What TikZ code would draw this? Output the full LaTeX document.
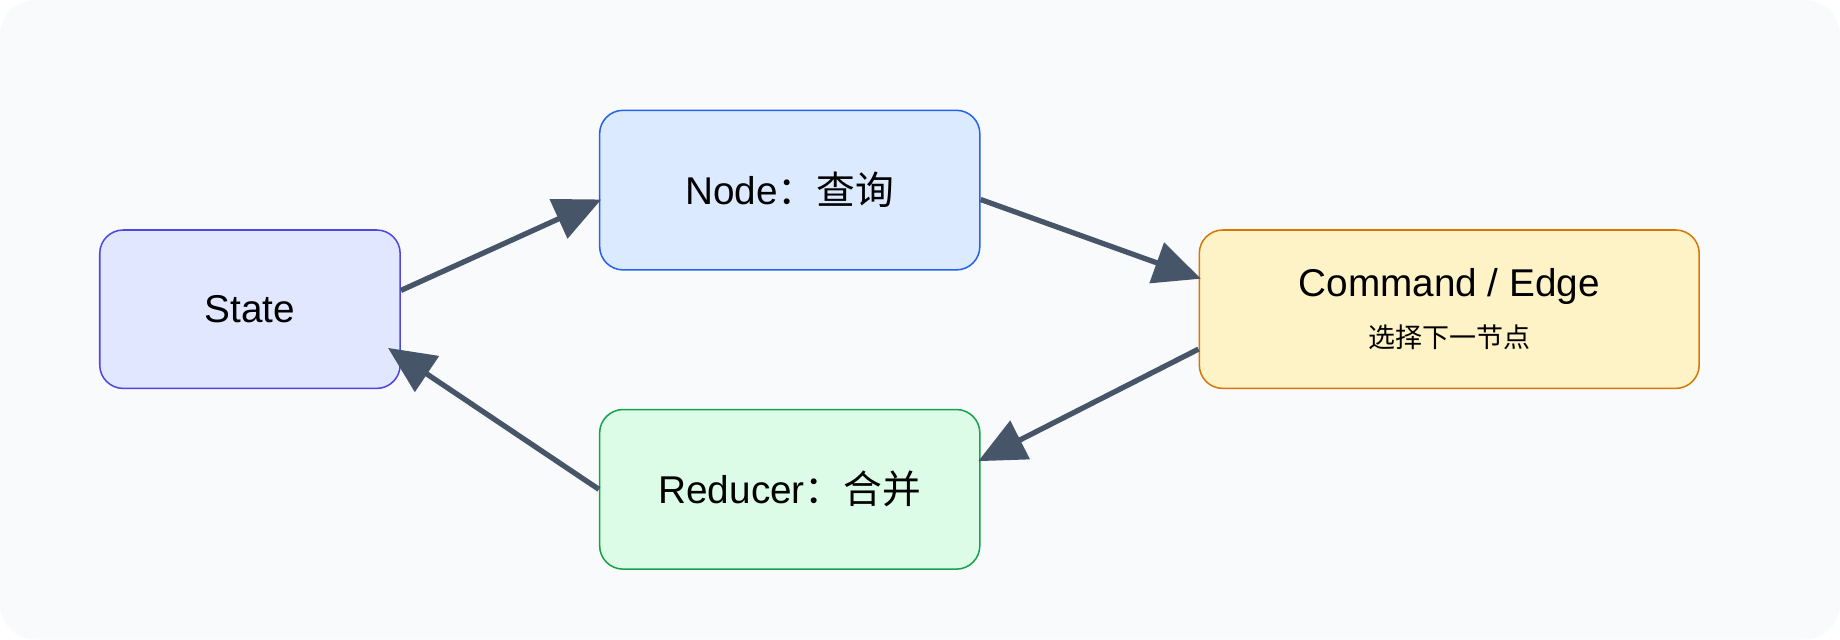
\documentclass[tikz,border=0pt]{standalone}
\usepackage{fontspec}
\setmainfont{Liberation Sans}
\newfontfamily\cjk{Noto Sans CJK SC}
\usetikzlibrary{arrows.meta}
\definecolor{bg}{HTML}{F8FAFC}
\definecolor{arr}{HTML}{475569}
\definecolor{sD}{HTML}{4F46E5}\definecolor{sF}{HTML}{E0E7FF}
\definecolor{nD}{HTML}{2563EB}\definecolor{nF}{HTML}{DBEAFE}
\definecolor{cD}{HTML}{D97706}\definecolor{cF}{HTML}{FEF3C7}
\definecolor{rD}{HTML}{16A34A}\definecolor{rF}{HTML}{DCFCE7}
\begin{document}
\begin{tikzpicture}[x=1pt,y=-1pt,
 box/.style={draw,line width=1.3pt,rounded corners=20pt,inner sep=0pt,font=\fontsize{33}{38}\selectfont},
 con/.style={draw=arr,line width=4.5pt,-{Triangle[length=40pt,width=36pt]}}]
\fill[bg,rounded corners=30pt] (0,0) rectangle (1568,545);
\useasboundingbox (0,0) rectangle (1568,545);
\node[box,draw=sD,fill=sF,minimum width=256pt,minimum height=135pt] (state) at (213,263.5) {State};
\node[box,draw=nD,fill=nF,minimum width=324pt,minimum height=136pt] (node) at (673,162) {Node{\cjk ：查询}};
\node[box,draw=cD,fill=cF,minimum width=426pt,minimum height=135pt,align=center] (cmd) at (1235,263.5) {Command / Edge\\[5pt]{\cjk\fontsize{23}{28}\selectfont 选择下一节点}};
\node[box,draw=rD,fill=rF,minimum width=324pt,minimum height=136pt] (red) at (673,417) {Reducer{\cjk ：合并}};
\draw[con] ([yshift=16pt]state.east) -- ([xshift=2pt,yshift=-8pt]node.west);
\draw[con] ([yshift=-8pt]node.east) -- ([xshift=2pt,yshift=26pt]cmd.west);
\draw[con] ([yshift=-34pt]cmd.west) -- ([xshift=-2pt,yshift=24pt]red.east);
\draw[con] (red.west) -- ([xshift=-11pt,yshift=-33pt]state.east);
\end{tikzpicture}
\end{document}
